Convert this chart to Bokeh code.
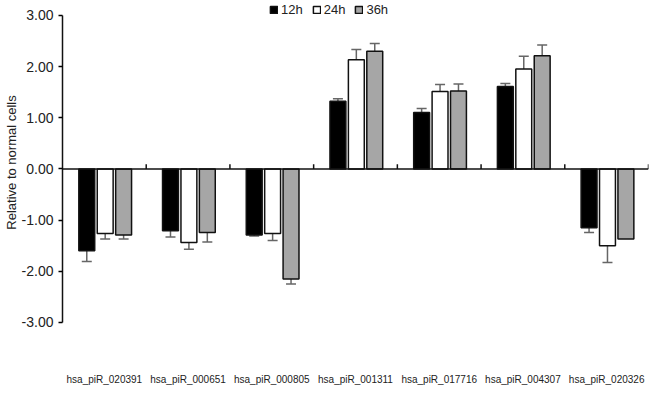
import numpy as np
from bokeh.plotting import figure
from bokeh.models import (ColumnDataSource, Range1d, FixedTicker, Whisker, TeeHead,
                          Span, Legend, LegendItem, NumeralTickFormatter)
from bokeh.embed import file_html
from bokeh.resources import INLINE

categories = ["hsa_piR_020391", "hsa_piR_000651", "hsa_piR_000805", "hsa_piR_001311",
              "hsa_piR_017716", "hsa_piR_004307", "hsa_piR_020326"]
series_names = ["12h", "24h", "36h"]
v12 = [-1.60, -1.21, -1.29, 1.32, 1.10, 1.61, -1.15]
e12 = [0.21, 0.12, 0.02, 0.05, 0.08, 0.06, 0.09]
v24 = [-1.26, -1.44, -1.26, 2.13, 1.51, 1.95, -1.50]
e24 = [0.11, 0.13, 0.14, 0.20, 0.14, 0.25, 0.33]
v36 = [-1.29, -1.24, -2.15, 2.30, 1.52, 2.21, -1.37]
e36 = [0.08, 0.19, 0.10, 0.15, 0.14, 0.21, 0.0]
y_ticks = [-3, -2, -1, 0, 1, 2, 3]

colors = ["#000000", "#ffffff", "#a6a6a6"]
offsets = [-0.21, 0.01, 0.23]
bar_w = 0.19
FONT = "Liberation Sans"
Y0, Y1 = -3.02, 3.27

p = figure(width=649, height=419, output_backend="svg", toolbar_location=None,
           x_range=Range1d(0, len(categories)), y_range=Range1d(Y0, Y1),
           min_border_left=62, min_border_right=1, min_border_top=1, min_border_bottom=96)
p.outline_line_color = None
p.grid.visible = False

centers = np.arange(len(categories)) + 0.5
legend_items = []
for name, vals, errs, col, off in zip(series_names, [v12, v24, v36], [e12, e24, e36], colors, offsets):
    vals = np.array(vals)
    errs = np.array(errs)
    src = ColumnDataSource(dict(x=centers + off, top=vals))
    r = p.vbar(x="x", top="top", bottom=0, width=bar_w, source=src,
               fill_color=col, line_color="#111111", line_width=1.5)
    legend_items.append(LegendItem(label=name, renderers=[r]))
    m = errs > 0
    esrc = ColumnDataSource(dict(x=(centers + off)[m], upper=(vals + errs)[m],
                                 lower=(vals - errs)[m]))
    w = Whisker(base="x", upper="upper", lower="lower", source=esrc,
                line_color="#666666", line_width=1.5,
                upper_head=TeeHead(size=10, line_color="#666666", line_width=1.5),
                lower_head=TeeHead(size=10, line_color="#666666", line_width=1.5))
    p.add_layout(w)

# zero line and category-boundary ticks
p.add_layout(Span(location=0, dimension="width", line_color="#111111", line_width=1.5))
bounds = np.arange(1, len(categories) + 1)
p.segment(x0=bounds, x1=bounds, y0=np.zeros(len(bounds)), y1=np.full(len(bounds), 0.09),
          line_color="#111111", line_width=1.5)

# y axis
ya = p.yaxis[0]
ya.ticker = FixedTicker(ticks=y_ticks)
ya.bounds = (y_ticks[0], y_ticks[-1])
ya.formatter = NumeralTickFormatter(format="0.00")
ya.axis_line_color = "#111111"
ya.axis_line_width = 1.5
ya.major_tick_out = 4
ya.major_tick_in = 0
ya.major_tick_line_width = 1.5
ya.minor_tick_line_color = None
ya.major_label_text_font = FONT
ya.major_label_text_font_size = "14px"
ya.major_label_text_color = "#222222"
ya.major_label_standoff = 5
ya.axis_label = "Relative to normal cells"
ya.axis_label_text_font = FONT
ya.axis_label_text_font_size = "13px"
ya.axis_label_text_font_style = "normal"
ya.axis_label_text_color = "#222222"
ya.axis_label_standoff = 0

# x axis: category labels only, below the y-axis bottom
xa = p.xaxis[0]
xa.ticker = FixedTicker(ticks=list(centers))
xa.major_label_overrides = {float(c): lab for c, lab in zip(centers, categories)}
xa.axis_line_color = None
xa.major_tick_line_color = None
xa.minor_tick_line_color = None
xa.major_label_text_font = FONT
xa.major_label_text_font_size = "10px"
xa.major_label_text_color = "#222222"
xa.major_label_standoff = 44

legend = Legend(items=legend_items, orientation="horizontal", location=(207, 306),
                label_text_font=FONT, label_text_font_size="13px", label_text_color="#222222",
                glyph_width=9, glyph_height=9, label_standoff=3, spacing=9,
                padding=0, margin=0, border_line_color=None, background_fill_alpha=0,
                label_height=12)
p.add_layout(legend, "center")

open("out.html", "w").write(file_html(p, INLINE))
